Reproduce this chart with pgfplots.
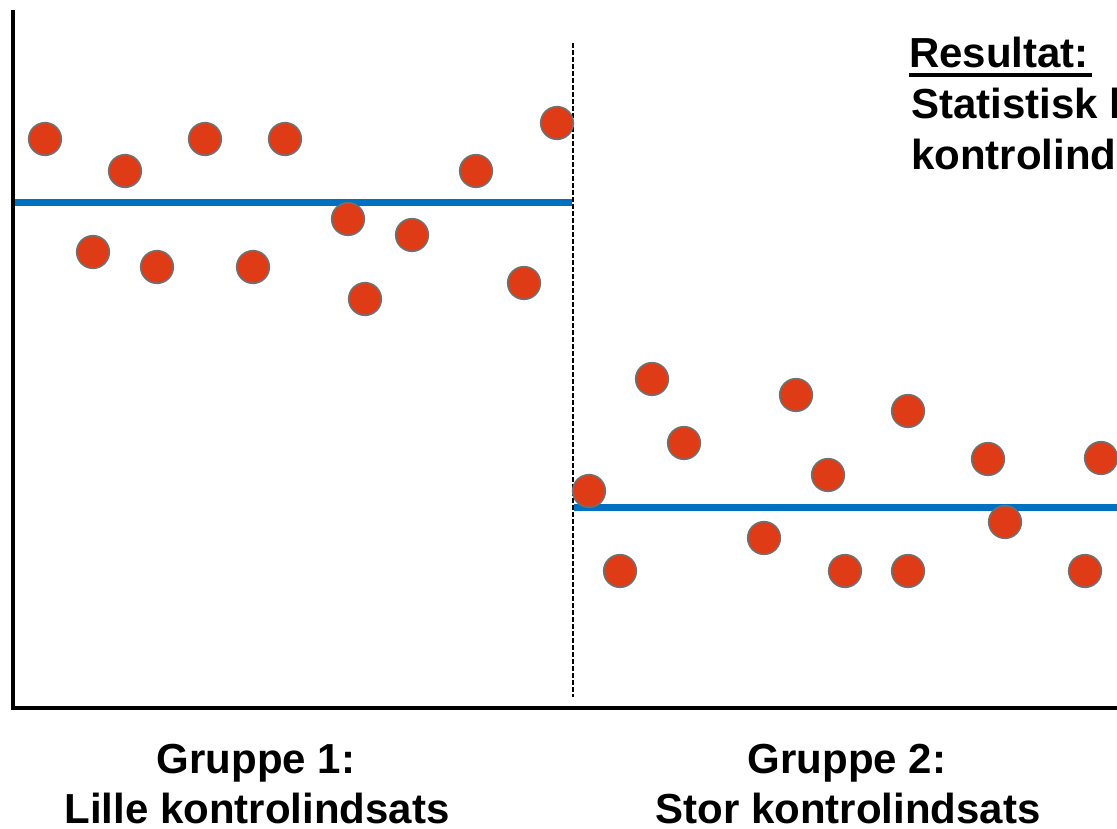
\documentclass[border=0pt]{standalone}
\usepackage{fontspec}
\setmainfont{Liberation Sans}
\usepackage{pgfplots}
\pgfplotsset{compat=1.18}
\definecolor{dotred}{RGB}{224,59,23}
\definecolor{dotedge}{RGB}{112,112,112}
\definecolor{meanblue}{RGB}{0,112,192}
\begin{document}
\begin{tikzpicture}
\clip (0,0) rectangle (1117pt,829pt);
\begin{axis}[
  scale only axis, width=1117pt, height=829pt,
  xmin=0, xmax=1117, ymin=0, ymax=829, y dir=reverse,
  axis lines=none, clip=false,
]
% axes
\addplot[black, line width=4pt, line cap=rect] coordinates {(13,12) (13,708) (1117,708)};
% divider
\addplot[black, line width=1.3pt, dash pattern=on 5pt off 2pt] coordinates {(573,43) (573,697)};
% means
\addplot[meanblue, line width=7pt] coordinates {(15,203) (572,203)};
\addplot[meanblue, line width=7pt] coordinates {(574,507) (1117,507)};
% group 1
\addplot[only marks, mark=*, mark size=16.3pt, mark options={fill=dotred, draw=dotedge, line width=1.6pt}] coordinates {
(45,139) (93,252) (125,171) (157,267) (205,139) (253,267) (285,139) (348,219) (365,299) (412,235) (476,171) (524,283) (557,123)
};
% group 2
\addplot[only marks, mark=*, mark size=16.3pt, mark options={fill=dotred, draw=dotedge, line width=1.6pt}] coordinates {
(589,491) (620,571) (652,379) (684,443) (764,538) (796,395) (828,475) (845,571) (908,411) (908,571) (988,459) (1005,522) (1085,571) (1101,458)
};
% texts
\node[anchor=base west, font=\fontsize{42}{50}\selectfont\bfseries, inner sep=0pt] at (axis cs:909,68) {Resultat:};
\draw[black, line width=4pt] (axis cs:909,75) -- (axis cs:1092,75);
\node[anchor=base west, font=\fontsize{42}{50}\selectfont\bfseries, inner sep=0pt] at (axis cs:911,119) {Statistisk lavere};
\node[anchor=base west, font=\fontsize{42}{50}\selectfont\bfseries, inner sep=0pt] at (axis cs:911,170) {kontrolindsats};
\node[anchor=base, font=\fontsize{42}{50}\selectfont\bfseries, inner sep=0pt] at (axis cs:256,773) {Gruppe 1:};
\node[anchor=base, font=\fontsize{42}{50}\selectfont\bfseries, inner sep=0pt] at (axis cs:257,823) {Lille kontrolindsats};
\node[anchor=base, font=\fontsize{42}{50}\selectfont\bfseries, inner sep=0pt] at (axis cs:847,773) {Gruppe 2:};
\node[anchor=base, font=\fontsize{42}{50}\selectfont\bfseries, inner sep=0pt] at (axis cs:848,823) {Stor kontrolindsats};
\end{axis}
\end{tikzpicture}
\end{document}
